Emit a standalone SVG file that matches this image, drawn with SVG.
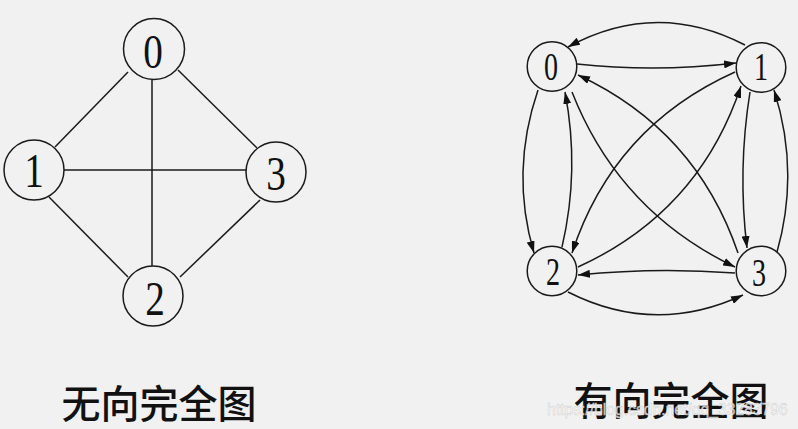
<svg xmlns="http://www.w3.org/2000/svg" width="798" height="429" viewBox="0 0 798 429">
<style>
.bg{fill:#f1f1f1}
.node circle{fill:none;stroke:#1a1a1a;stroke-width:1.5}
.d{font-family:"Liberation Serif","Times New Roman",serif;fill:#111;text-anchor:middle}
.big{font-size:49px}
.small{font-size:39px}
.edges line,.edges path{fill:none;stroke:#1a1a1a;stroke-width:1.5}
.lbl{font-family:"Noto Sans CJK SC","Noto Sans",sans-serif;font-size:39px;fill:#111;text-anchor:middle;font-weight:500}
.wm{font-family:"Liberation Sans",Arial,sans-serif;font-size:15.7px;fill:#ffffff;fill-opacity:0.75;stroke:#c8c8c8;stroke-width:0.4}
</style>
<defs>
<marker id="arr" viewBox="0 0 12 8" refX="12" refY="4" markerWidth="12" markerHeight="8" markerUnits="userSpaceOnUse" orient="auto">
<path d="M0,0 L12,4 L0,8 z" fill="#111"/>
</marker>
</defs>
<rect class="bg" x="0" y="0" width="798" height="429"/>

<g id="undirected-edges" class="edges">
<line x1="128" y1="72" x2="55" y2="147"/>
<line x1="178" y1="70" x2="257" y2="148"/>
<line x1="152" y1="80" x2="152" y2="266"/>
<line x1="64" y1="170" x2="246" y2="170"/>
<line x1="49" y1="197" x2="128" y2="277"/>
<line x1="260" y1="200" x2="180" y2="277"/>
</g>

<g id="u0" class="node"><circle cx="154" cy="49" r="30.5"/><text class="d big" transform="translate(153,67.5) scale(0.8,1)">0</text></g>
<g id="u1" class="node"><circle cx="34" cy="170" r="30"/><text class="d big" transform="translate(34,187) scale(0.8,1)">1</text></g>
<g id="u3" class="node"><circle cx="276" cy="172" r="30"/><text class="d big" transform="translate(276,189.5) scale(0.8,1)">3</text></g>
<g id="u2" class="node"><circle cx="153" cy="296" r="30"/><text class="d big" transform="translate(155,314.5) scale(0.8,1)">2</text></g>

<g id="directed-edges" class="edges">
<path d="M745,45 Q656,-1 568,47" marker-end="url(#arr)"/>
<path d="M577,64 Q656,72.5 736,63" marker-end="url(#arr)"/>
<path d="M738,253 Q696,130 578,75" marker-end="url(#arr)"/>
<path d="M572,92 Q619,211.5 735,267" marker-end="url(#arr)"/>
<path d="M735,72 Q613.5,126.5 572,253" marker-end="url(#arr)"/>
<path d="M578,267 Q699,212 741,86" marker-end="url(#arr)"/>
<path d="M538,90 Q510,172 534,253" marker-end="url(#arr)"/>
<path d="M562,247 Q580,170 565,92" marker-end="url(#arr)"/>
<path d="M750,92 Q737.5,170 747,248" marker-end="url(#arr)"/>
<path d="M777,252 Q800,171 774,90" marker-end="url(#arr)"/>
<path d="M735,273 Q656,267 578,275" marker-end="url(#arr)"/>
<path d="M568,292 Q655,336 743,295" marker-end="url(#arr)"/>
</g>

<g id="d0" class="node"><circle cx="552" cy="66.5" r="24.8"/><text class="d small" transform="translate(551,80) scale(0.72,1)">0</text></g>
<g id="d1" class="node"><circle cx="761" cy="67.5" r="24.8"/><text class="d small" transform="translate(761,80) scale(0.72,1)">1</text></g>
<g id="d2" class="node"><circle cx="552" cy="271" r="24.8"/><text class="d small" transform="translate(553,285) scale(0.72,1)">2</text></g>
<g id="d3" class="node"><circle cx="761" cy="271" r="24.8"/><text class="d small" transform="translate(759,286) scale(0.72,1)">3</text></g>

<g id="labels">
<text class="lbl" x="159" y="418">无向完全图</text>
<text class="lbl" x="671" y="415">有向完全图</text>
<text class="wm" x="547" y="415">https://blog.csdn.net/qq_33283796</text>
</g>
</svg>
